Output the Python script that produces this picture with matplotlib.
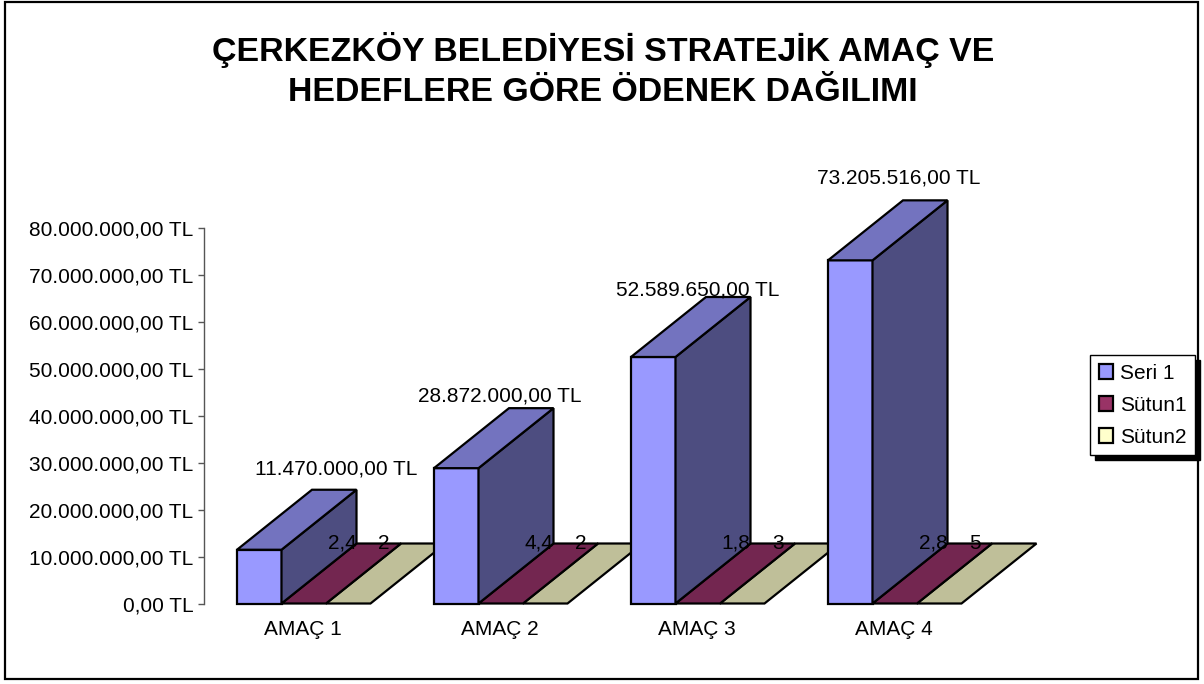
import matplotlib
matplotlib.use('Agg')
import matplotlib.pyplot as plt
from matplotlib.patches import Polygon, Rectangle

plt.rcParams['font.family'] = ['Liberation Sans', 'DejaVu Sans']

title = 'ÇERKEZKÖY BELEDİYESİ STRATEJİK AMAÇ VE\nHEDEFLERE GÖRE ÖDENEK DAĞILIMI'
categories = ['AMAÇ 1', 'AMAÇ 2', 'AMAÇ 3', 'AMAÇ 4']
seri1 = [11470000, 28872000, 52589650, 73205516]
sutun1 = [2.4, 4.4, 1.8, 2.8]
sutun2 = [2, 2, 3, 5]
yticks = [0, 10000000, 20000000, 30000000, 40000000, 50000000, 60000000, 70000000, 80000000]

W, H = 1204, 684
fs = 15
fig = plt.figure(figsize=(W / 100, H / 100), dpi=100)
fig.add_artist(Rectangle((4.5 / W, 1 - 679 / H), 1193 / W, 677.5 / H, transform=fig.transFigure,
                         fill=False, edgecolor='black', linewidth=1.6))

# one category is 197 px, the plot is 375 px high
ax = fig.add_axes([204 / W, 1 - 603.5 / H, 788 / W, 375 / H])
ax.set_xlim(0, 4)
ax.set_ylim(0, 80000000)
ax.patch.set_visible(False)
for s in ['top', 'right', 'bottom']:
    ax.spines[s].set_visible(False)
ax.spines['left'].set_color('#555555')
ax.spines['left'].set_linewidth(1)


def tl(v):
    s = f'{v:,.2f}'.replace(',', '#').replace('.', ',').replace('#', '.')
    return s + ' TL'


def comma(v):
    return str(v).replace('.', ',')


ax.set_yticks(yticks)
ax.set_yticklabels([tl(v) for v in yticks], fontsize=fs, color='black')
ax.tick_params(axis='y', length=4.3, width=1, color='#555555', pad=3.4)
ax.set_xticks([i + 0.5 for i in range(4)])
ax.set_xticklabels(categories, fontsize=fs)
ax.tick_params(axis='x', length=0, pad=12)

x0 = 33 / 197
bw = 44.5 / 197
dx = 75 / 197
dy = 60 / 375 * 80000000
edge = dict(edgecolor='black', linewidth=1.6, joinstyle='miter', clip_on=False)


def box(x, v, front, top, side):
    if v > 1000:
        ax.add_patch(Polygon([(x, 0), (x + bw, 0), (x + bw, v), (x, v)], facecolor=front, **edge))
        ax.add_patch(Polygon([(x + bw, 0), (x + bw + dx, dy), (x + bw + dx, v + dy), (x + bw, v)], facecolor=side, **edge))
    ax.add_patch(Polygon([(x, v), (x + bw, v), (x + bw + dx, v + dy), (x + dx, v + dy)], facecolor=top, **edge))


for i in range(4):
    box(i + x0 + 2 * bw, sutun2[i], '#FFFFCC', '#BFBF99', '#808066')
    box(i + x0 + bw, sutun1[i], '#993366', '#732650', '#4D1A33')
    box(i + x0, seri1[i], '#9999FF', '#7373BF', '#4D4D80')

# label places were moved by hand in the original, so offsets in px from the bar's front top
label_dx = [77, 44, 44, 48]
label_dy = [81, 72, 67, 82]
for i in range(4):
    ax.annotate(tl(seri1[i]), (i + x0 + bw / 2, seri1[i]), xytext=(label_dx[i] * 0.72, label_dy[i] * 0.72),
                textcoords='offset points', ha='center', va='center', fontsize=fs, color='black',
                annotation_clip=False, zorder=5)
    ax.annotate(comma(sutun1[i]), (i + 138 / 197, sutun1[i] + dy), ha='center', va='center',
                fontsize=fs, color='black', annotation_clip=False, zorder=5)
    ax.annotate(comma(sutun2[i]), (i + 180 / 197, sutun2[i] + dy), ha='center', va='center',
                fontsize=fs, color='black', annotation_clip=False, zorder=5)

fig.text(603 / W, 1 - 70 / H, title, ha='center', va='center', fontsize=24.4, fontweight='bold',
         color='black', linespacing=1.36)

handles = [Rectangle((0, 0), 1, 1, facecolor=c, edgecolor='black', linewidth=1.6)
           for c in ['#9999FF', '#993366', '#FFFFCC']]
fig.legend(handles, ['Seri 1', 'Sütun1', 'Sütun2'], loc='upper left',
           bbox_to_anchor=(1090 / W, 1 - 355 / H), fontsize=fs, fancybox=False, framealpha=1,
           edgecolor='black', borderaxespad=0, borderpad=0.42, labelspacing=0.62, handlelength=0.7,
           handleheight=0.7, handletextpad=0.3,
           shadow={'ox': 3.6, 'oy': -3.6, 'color': 'black', 'alpha': 1})

fig.savefig('out.png', dpi=100)
